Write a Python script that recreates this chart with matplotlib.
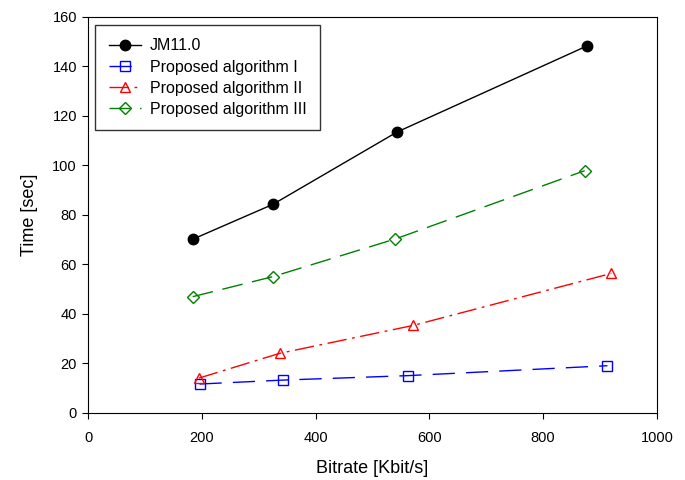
import matplotlib
matplotlib.use("Agg")
import matplotlib.pyplot as plt

plt.rcParams['font.family'] = ['Liberation Sans', 'DejaVu Sans']

jm_x = [184, 325, 543, 877]
jm_y = [70.2, 84.3, 113.5, 148.3]
a1_x = [196, 343, 563, 913]
a1_y = [11.7, 13.3, 15.1, 19.1]
a2_x = [195, 337, 572, 920]
a2_y = [14.1, 24.1, 35.4, 56.4]
a3_x = [184, 325, 540, 873]
a3_y = [47.0, 55.1, 70.3, 97.9]

fig = plt.figure(figsize=(6.85, 4.8), dpi=100)
ax = fig.add_axes([0.1285, 0.1396, 0.8305, 0.825])

ax.plot(jm_x, jm_y, color='black', lw=1, marker='o', ms=7.5, mfc='black', mec='black', label='JM11.0')
ax.plot(a1_x, a1_y, color='blue', lw=1, dashes=(16, 8), marker='s', ms=7, mew=1, mfc='none', mec='blue', label='Proposed algorithm I')
ax.plot(a2_x, a2_y, color='red', lw=1, dashes=(14, 4, 2, 4), marker='^', ms=7, mew=1, mfc='none', mec='red', label='Proposed algorithm II')
ax.plot(a3_x, a3_y, color='green', lw=1, dashes=(15, 7), marker='D', ms=6.5, mew=1, mfc='none', mec='green', label='Proposed algorithm III')

ax.set_xlim(0, 1000)
ax.set_ylim(0, 160)
ax.set_xticks(range(0, 1001, 200))
ax.set_yticks(range(0, 161, 20))
ax.tick_params(direction='out', labelsize=10.5, length=4)
ax.tick_params(axis='x', pad=9)
ax.tick_params(axis='y', pad=4)
ax.set_xlabel('Bitrate [Kbit/s]', fontsize=13, labelpad=11)
ax.set_ylabel('Time [sec]', fontsize=13, labelpad=10)

leg = ax.legend(loc='upper left', bbox_to_anchor=(0.0123, 0.98), borderaxespad=0,
                fontsize=11.5, frameon=True, fancybox=False, edgecolor='black',
                handlelength=2.0, handletextpad=0.6, borderpad=0.85, labelspacing=0.38)
leg.get_frame().set_linewidth(1)

fig.savefig('out.png', dpi=100)
